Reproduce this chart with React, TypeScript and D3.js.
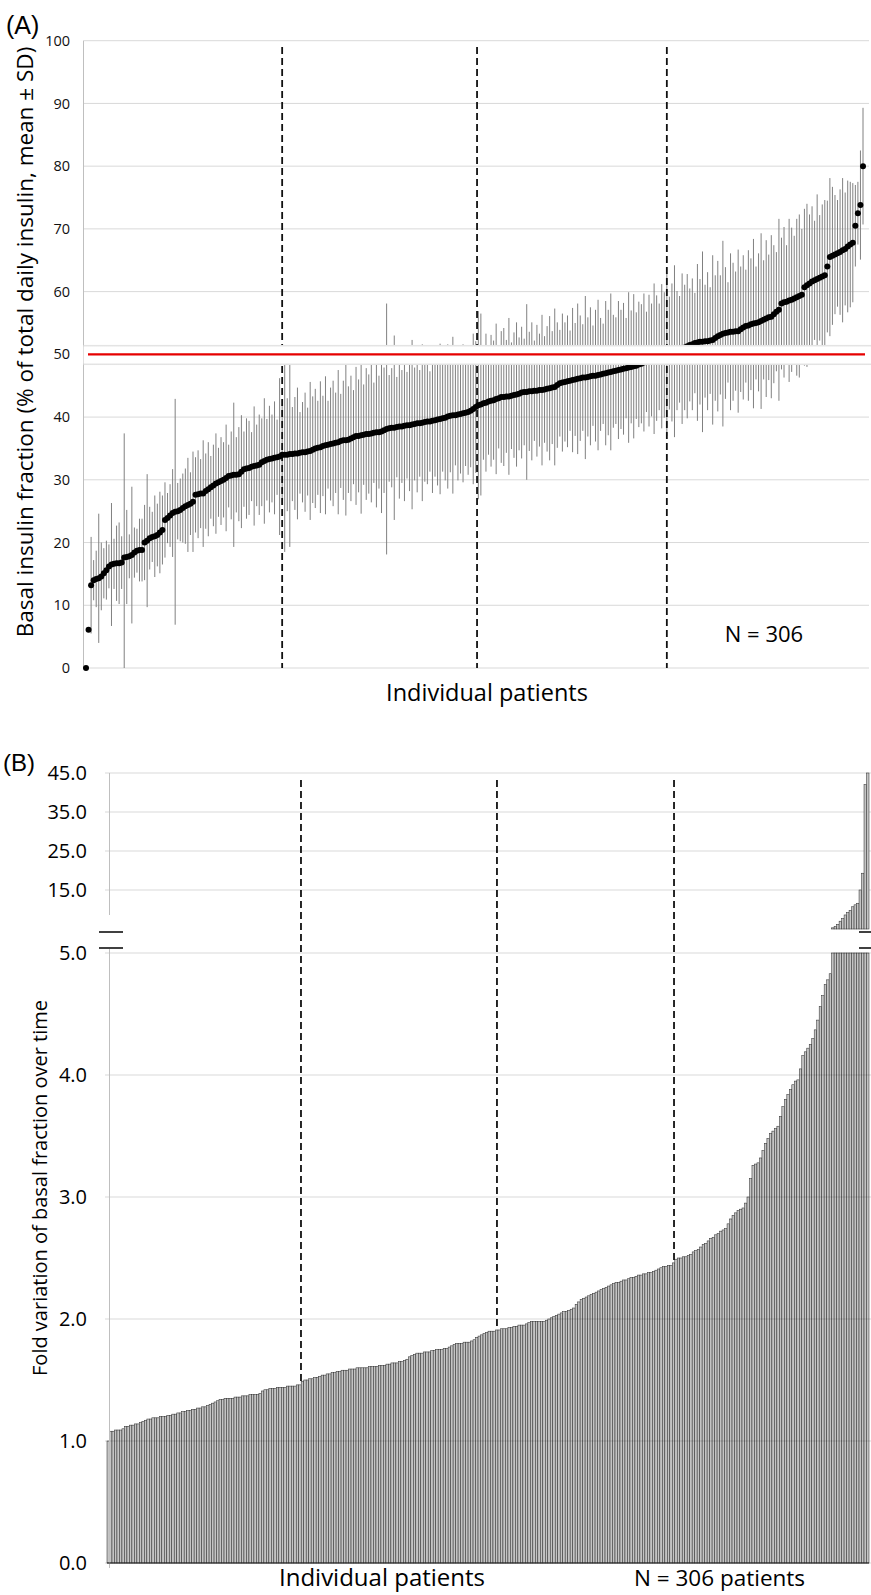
import React from 'react';
import * as d3 from 'd3';

// Panel A: basal insulin fraction per patient (sorted), mean and SD
const basalMean = [
  0, 6.1, 13.2, 14.0, 14.2, 14.3, 14.6, 15.1, 15.6, 16.2,
  16.5, 16.6, 16.7, 16.7, 16.8, 17.6, 17.7, 17.8, 18.0, 18.4,
  18.7, 18.8, 18.8, 20.0, 20.3, 20.7, 20.9, 21.0, 21.2, 21.6,
  22.0, 23.6, 23.9, 24.3, 24.7, 24.9, 25.0, 25.2, 25.5, 25.8,
  26.0, 26.2, 26.5, 27.6, 27.7, 27.8, 27.8, 28.2, 28.5, 28.8,
  29.1, 29.4, 29.6, 29.8, 30.0, 30.3, 30.6, 30.7, 30.8, 30.8,
  30.9, 31.3, 31.7, 31.8, 31.9, 32.1, 32.2, 32.3, 32.4, 32.8,
  33.0, 33.2, 33.3, 33.4, 33.5, 33.6, 33.7, 34.0, 34.0, 34.0,
  34.1, 34.1, 34.2, 34.2, 34.3, 34.4, 34.4, 34.5, 34.6, 34.8,
  35.0, 35.1, 35.2, 35.4, 35.5, 35.6, 35.7, 35.8, 35.9, 36.0,
  36.2, 36.3, 36.3, 36.4, 36.6, 36.8, 37.0, 37.0, 37.1, 37.2,
  37.3, 37.3, 37.4, 37.5, 37.6, 37.6, 37.7, 37.9, 38.1, 38.2,
  38.3, 38.3, 38.4, 38.5, 38.5, 38.6, 38.7, 38.7, 38.8, 38.9,
  39.0, 39.0, 39.1, 39.2, 39.3, 39.3, 39.4, 39.5, 39.6, 39.7,
  39.8, 39.9, 40.1, 40.2, 40.3, 40.3, 40.4, 40.5, 40.6, 40.7,
  40.8, 41.0, 41.3, 41.6, 41.9, 42.0, 42.2, 42.3, 42.5, 42.6,
  42.7, 42.9, 43.0, 43.2, 43.2, 43.3, 43.3, 43.4, 43.5, 43.6,
  43.7, 43.9, 44.0, 44.0, 44.1, 44.1, 44.2, 44.2, 44.3, 44.3,
  44.4, 44.5, 44.6, 44.7, 44.8, 45.1, 45.4, 45.5, 45.6, 45.7,
  45.8, 45.9, 46.0, 46.1, 46.2, 46.3, 46.3, 46.4, 46.5, 46.6,
  46.6, 46.7, 46.8, 46.9, 47.0, 47.1, 47.2, 47.3, 47.4, 47.5,
  47.6, 47.7, 47.8, 47.9, 48.0, 48.1, 48.2, 48.4, 48.5, 48.7,
  48.8, 49.0, 49.1, 49.3, 49.4, 49.6, 49.7, 49.9, 50.0, 50.2,
  50.3, 50.5, 50.6, 50.8, 50.9, 51.1, 51.3, 51.5, 51.6, 51.8,
  51.9, 52.0, 52.0, 52.1, 52.1, 52.2, 52.3, 52.6, 52.9, 53.1,
  53.3, 53.4, 53.5, 53.6, 53.6, 53.7, 53.7, 54.0, 54.3, 54.5,
  54.6, 54.8, 54.9, 55.0, 55.1, 55.3, 55.5, 55.7, 55.9, 56.0,
  56.4, 56.8, 57.1, 58.1, 58.3, 58.4, 58.6, 58.7, 58.9, 59.1,
  59.3, 59.5, 60.7, 61.0, 61.3, 61.6, 61.8, 62.0, 62.2, 62.4,
  62.6, 64.0, 65.5, 65.7, 65.9, 66.1, 66.3, 66.6, 66.8, 67.2,
  67.5, 67.8, 70.5, 72.5, 73.8, 80.0,
];

const basalSD = [
  0, 0, 7.7, 3.2, 4.5, 10.3, 5.4, 4.0, 4.7, 3.5,
  9.8, 4.0, 6.0, 6.5, 4.2, 19.8, 7.5, 3.5, 10.9, 4.0,
  3.5, 5.0, 5.0, 6.0, 10.6, 5.0, 4.0, 6.5, 5.0, 6.5,
  5.5, 6.0, 4.0, 5.0, 7.0, 18.0, 4.5, 5.0, 5.5, 6.0,
  7.5, 5.0, 8.0, 6.0, 7.0, 5.5, 8.5, 6.0, 7.5, 5.0,
  6.5, 8.0, 5.5, 7.0, 6.0, 8.5, 5.0, 7.0, 11.5, 6.0,
  7.5, 9.0, 6.0, 8.0, 7.5, 5.5, 9.5, 6.5, 8.0, 7.0,
  10.0, 6.5, 8.5, 7.0, 9.0, 6.0, 12.5, 8.0, 15.5, 9.0,
  14.8, 7.5, 9.0, 10.5, 6.5, 8.0, 9.5, 7.0, 11.0, 8.5,
  9.5, 7.5, 10.5, 8.0, 11.0, 7.0, 9.0, 10.0, 8.0, 11.5,
  7.5, 9.5, 12.0, 8.5, 10.0, 7.5, 11.0, 9.0, 12.5, 8.0,
  10.5, 9.5, 11.0, 8.0, 12.0, 9.0, 13.0, 10.0, 20.0, 8.5,
  9.5, 14.7, 8.0, 11.5, 9.0, 12.0, 8.5, 10.5, 13.5, 9.0,
  11.0, 8.5, 12.5, 9.5, 10.0, 8.0, 11.5, 9.0, 10.5, 12.0,
  8.5, 10.0, 11.5, 9.0, 12.5, 8.0, 10.5, 9.5, 11.0, 8.5,
  10.0, 9.0, 12.0, 10.5, 15.0, 14.5, 9.0, 11.0, 8.5, 10.5,
  9.5, 12.0, 8.0, 10.5, 11.0, 9.0, 12.5, 8.5, 10.0, 11.5,
  9.0, 10.5, 8.5, 14.0, 9.5, 11.0, 8.0, 10.5, 9.0, 12.0,
  8.5, 10.0, 11.5, 9.0, 12.5, 10.0, 8.5, 11.0, 9.5, 10.5,
  8.0, 11.5, 9.0, 12.0, 10.0, 8.5, 13.0, 9.5, 11.0, 8.0,
  10.5, 12.0, 9.0, 8.0, 11.5, 10.0, 12.5, 9.0, 8.5, 11.0,
  9.5, 10.5, 8.0, 12.0, 9.0, 11.5, 8.5, 10.0, 9.5, 11.0,
  8.0, 10.5, 9.0, 12.0, 10.0, 8.5, 11.5, 10.0, 13.0, 9.0,
  11.0, 13.7, 9.5, 8.5, 12.0, 10.0, 11.5, 9.0, 10.5, 8.0,
  12.5, 10.0, 14.4, 9.0, 11.0, 8.5, 13.5, 10.0, 12.0, 9.5,
  14.8, 10.5, 8.0, 12.5, 11.0, 9.5, 13.0, 10.0, 11.5, 9.0,
  12.0, 10.5, 13.5, 9.0, 11.0, 14.0, 9.5, 12.5, 10.0, 13.0,
  11.0, 9.5, 14.5, 10.5, 12.0, 9.0, 13.0, 11.5, 10.0, 12.5,
  13.0, 10.5, 12.5, 13.0, 11.0, 12.0, 9.5, 13.5, 10.0, 11.5,
  12.0, 10.5, 12.6, 11.0, 9.5, 8.5, 10.0, 11.5, 9.0, 10.5,
  10.0, 9.5, 6.5, 5.0, 8.7, 9.3,
];

// Panel B: fold variation of basal fraction over time (sorted)
const foldVariation = [
  1.00, 1.08, 1.08, 1.09, 1.09, 1.09, 1.10, 1.12, 1.12, 1.13,
  1.13, 1.14, 1.14, 1.15, 1.16, 1.17, 1.18, 1.18, 1.19, 1.19,
  1.19, 1.20, 1.20, 1.20, 1.21, 1.21, 1.22, 1.22, 1.23, 1.23,
  1.24, 1.24, 1.25, 1.25, 1.26, 1.26, 1.27, 1.27, 1.28, 1.28,
  1.29, 1.30, 1.31, 1.32, 1.33, 1.34, 1.34, 1.35, 1.35, 1.35,
  1.35, 1.36, 1.36, 1.36, 1.37, 1.37, 1.37, 1.38, 1.38, 1.38,
  1.38, 1.39, 1.41, 1.42, 1.42, 1.43, 1.43, 1.43, 1.44, 1.44,
  1.44, 1.44, 1.45, 1.45, 1.45, 1.45, 1.46, 1.46, 1.49, 1.50,
  1.50, 1.51, 1.51, 1.52, 1.52, 1.53, 1.54, 1.54, 1.55, 1.55,
  1.56, 1.56, 1.57, 1.57, 1.58, 1.58, 1.58, 1.59, 1.59, 1.59,
  1.60, 1.60, 1.60, 1.60, 1.60, 1.61, 1.61, 1.61, 1.61, 1.62,
  1.62, 1.62, 1.63, 1.63, 1.64, 1.64, 1.64, 1.65, 1.65, 1.66,
  1.67, 1.69, 1.70, 1.71, 1.72, 1.72, 1.72, 1.73, 1.73, 1.73,
  1.74, 1.74, 1.75, 1.75, 1.75, 1.76, 1.76, 1.77, 1.78, 1.79,
  1.80, 1.80, 1.80, 1.81, 1.81, 1.81, 1.82, 1.83, 1.85, 1.86,
  1.87, 1.88, 1.89, 1.90, 1.90, 1.90, 1.91, 1.91, 1.92, 1.92,
  1.92, 1.93, 1.93, 1.94, 1.94, 1.95, 1.95, 1.95, 1.96, 1.97,
  1.98, 1.98, 1.98, 1.98, 1.98, 1.98, 1.99, 2.00, 2.01, 2.02,
  2.03, 2.04, 2.05, 2.06, 2.06, 2.07, 2.08, 2.09, 2.12, 2.14,
  2.16, 2.17, 2.18, 2.19, 2.20, 2.21, 2.22, 2.23, 2.24, 2.25,
  2.26, 2.27, 2.28, 2.29, 2.30, 2.30, 2.31, 2.32, 2.32, 2.33,
  2.34, 2.34, 2.35, 2.36, 2.36, 2.37, 2.37, 2.38, 2.38, 2.39,
  2.40, 2.41, 2.42, 2.43, 2.43, 2.44, 2.44, 2.46, 2.49, 2.50,
  2.50, 2.51, 2.51, 2.52, 2.53, 2.55, 2.56, 2.57, 2.59, 2.61,
  2.62, 2.64, 2.66, 2.67, 2.69, 2.70, 2.72, 2.73, 2.74, 2.78,
  2.82, 2.85, 2.87, 2.89, 2.90, 2.91, 2.95, 3.00, 3.15, 3.26,
  3.27, 3.28, 3.32, 3.38, 3.44, 3.48, 3.52, 3.54, 3.56, 3.58,
  3.66, 3.74, 3.80, 3.84, 3.88, 3.92, 3.95, 3.96, 4.05, 4.16,
  4.19, 4.22, 4.25, 4.30, 4.37, 4.45, 4.56, 4.65, 4.74, 4.78,
  4.83, 5.3, 5.6, 6.2, 7.0, 7.7, 8.6, 9.2, 9.8, 10.7,
  11.2, 11.6, 15.0, 19.3, 42.0, 45.0,
];

// quartile separators, in patient index units
const quartilesA = [77, 153.5, 228];
const quartilesB = [77.4, 156.1, 227.2];

const ticksA = [0, 10, 20, 30, 40, 50, 60, 70, 80, 90, 100];
const ticksBLow = [0, 1, 2, 3, 4, 5];
const ticksBHigh = [15, 25, 35, 45];

const font = "'Open Sans', sans-serif";
const narrow = "'Liberation Sans Narrow', 'Open Sans', sans-serif";
const arial = "'Liberation Sans', Arial, sans-serif";

const W = 871;
const H = 1595;

const App = () => {
  // ---- panel A scales
  const xA = d3.scaleLinear().domain([0, basalMean.length - 1]).range([86, 863]);
  const yA = d3.scaleLinear().domain([0, 100]).range([668, 40.7]);
  const axA = 83.5;

  // ---- panel B scales
  const idx = d3.range(foldVariation.length);
  const xB = d3.scaleBand<number>().domain(idx).range([107, 869]).paddingInner(0);
  const bw = xB.bandwidth();
  const xBq = (q: number) => 107 + (q + 0.5) * bw;
  const yLow = d3.scaleLinear().domain([0, 5]).range([1563, 953]);
  const yHigh = d3.scaleLinear().domain([5, 45]).range([929, 773]);
  const axB = 109.5;

  const bandTop = yA(51.5);
  const bandBot = yA(48.3);

  return (
    <div style={{ position: 'absolute', left: 0, top: 0 }}>
      <svg width={W} height={H} style={{ display: 'block', background: '#fff' }}>
        <defs>
          <linearGradient id="cutBand" x1="0" y1="0" x2="0" y2="1">
            <stop offset="0%" stopColor="#dcdcdc" />
            <stop offset="12%" stopColor="#ffffff" />
            <stop offset="88%" stopColor="#ffffff" />
            <stop offset="100%" stopColor="#dcdcdc" />
          </linearGradient>
        </defs>

        {/* ================= Panel A ================= */}
        <text x={6} y={34} fontFamily={arial} fontSize={25}>(A)</text>

        {ticksA.map(t => (
          <g key={'ga' + t}>
            <line x1={axA} x2={869} y1={yA(t)} y2={yA(t)} stroke="#d9d9d9" strokeWidth={1} />
            <text x={70} y={yA(t)} dy="0.35em" textAnchor="end" fontFamily={narrow} fontSize={14.5} fill="#111">{t}</text>
          </g>
        ))}
        <line x1={axA} x2={axA} y1={yA(100)} y2={yA(0)} stroke="#bfbfbf" strokeWidth={1} />

        {/* error bars */}
        {basalMean.map((m, i) => basalSD[i] > 0 && (
          <line key={'eb' + i}
            x1={xA(i)} x2={xA(i)}
            y1={yA(Math.min(100, m + basalSD[i]))}
            y2={yA(Math.max(0, m - basalSD[i]))}
            stroke="#808080" strokeWidth={1} />
        ))}

        {/* quartile separators */}
        {quartilesA.map(q => (
          <line key={'qa' + q} x1={xA(q)} x2={xA(q)} y1={yA(99)} y2={yA(0)}
            stroke="#111" strokeWidth={1.8} strokeDasharray="7,4" />
        ))}

        {/* means */}
        {basalMean.map((m, i) => (
          <circle key={'pt' + i} cx={xA(i)} cy={yA(m)} r={3} fill="#000" />
        ))}

        {/* cut band with the 50% reference line */}
        <rect x={axA} y={bandTop} width={W - axA} height={bandBot - bandTop} fill="url(#cutBand)" />
        <line x1={88} x2={865} y1={yA(50)} y2={yA(50)} stroke="#e60000" strokeWidth={2.2} />

        <text x={764} y={642} textAnchor="middle" fontFamily={font} fontSize={22}>N = 306</text>
        <text x={487} y={701} textAnchor="middle" fontFamily={font} fontSize={23.5}>Individual patients</text>
        <text transform={`translate(33, 342) rotate(-90)`} textAnchor="middle"
          fontFamily={font} fontSize={22.5}>
          Basal insulin fraction (% of total daily insulin, mean ± SD)
        </text>

        {/* ================= Panel B ================= */}
        <text x={3} y={771} fontFamily={arial} fontSize={24}>(B)</text>

        {/* gridlines (white area) */}
        {ticksBHigh.map(t => (
          <line key={'gbh' + t} x1={105} x2={W} y1={yHigh(t)} y2={yHigh(t)} stroke="#d9d9d9" />
        ))}

        {/* bars, lower part */}
        {foldVariation.map((v, i) => (
          <rect key={'bl' + i} x={xB(i)} width={bw} y={yLow(Math.min(v, 5))}
            height={yLow(0) - yLow(Math.min(v, 5))}
            fill="#c4c4c4" stroke="#333" strokeWidth={0.55} />
        ))}
        {/* bars, upper part (values above 5) */}
        {foldVariation.map((v, i) => v > 5 && (
          <rect key={'bh' + i} x={xB(i)} width={bw} y={yHigh(Math.min(v, 45))}
            height={yHigh(5) - yHigh(Math.min(v, 45))}
            fill="#c4c4c4" stroke="#333" strokeWidth={0.55} />
        ))}

        {/* gridlines (lower, drawn over bars) */}
        {ticksBLow.map(t => (
          <line key={'gbl' + t} x1={105} x2={W} y1={yLow(t)} y2={yLow(t)} stroke="#000" strokeOpacity={0.15} />
        ))}

        {/* axes */}
        <line x1={axB} x2={axB} y1={yHigh(45)} y2={915} stroke="#bfbfbf" />
        <line x1={axB} x2={axB} y1={949} y2={1568} stroke="#bfbfbf" />
        <line x1={107} x2={869} y1={yLow(0)} y2={yLow(0)} stroke="#222" strokeWidth={1} />

        {/* axis break marks */}
        {[932, 948].map(y => (
          <g key={'brk' + y}>
            <line x1={99} x2={123} y1={y} y2={y} stroke="#000" strokeWidth={1.5} />
            <line x1={859} x2={871} y1={y} y2={y} stroke="#000" strokeWidth={1.5} />
          </g>
        ))}

        {/* quartile separators */}
        {quartilesB.map(q => (
          <line key={'qb' + q} x1={xBq(q)} x2={xBq(q)} y1={780}
            y2={yLow(foldVariation[Math.round(q)])}
            stroke="#111" strokeWidth={1.8} strokeDasharray="7,4" />
        ))}

        {ticksBHigh.map(t => (
          <text key={'tbh' + t} x={87} y={yHigh(t)} dy="0.35em" textAnchor="end" fontFamily={font} fontSize={20}>
            {d3.format('.1f')(t)}
          </text>
        ))}
        {ticksBLow.map(t => (
          <text key={'tbl' + t} x={87} y={yLow(t)} dy="0.35em" textAnchor="end" fontFamily={font} fontSize={20}>
            {d3.format('.1f')(t)}
          </text>
        ))}

        <text transform={`translate(47, 1188) rotate(-90)`} textAnchor="middle" fontFamily={font} fontSize={20}>
          Fold variation of basal fraction over time
        </text>
        <text x={382} y={1586} textAnchor="middle" fontFamily={font} fontSize={24}>Individual patients</text>
        <text x={634} y={1586} fontFamily={font} fontSize={22.5}>N = 306 patients</text>
      </svg>
    </div>
  );
};

export default App;
